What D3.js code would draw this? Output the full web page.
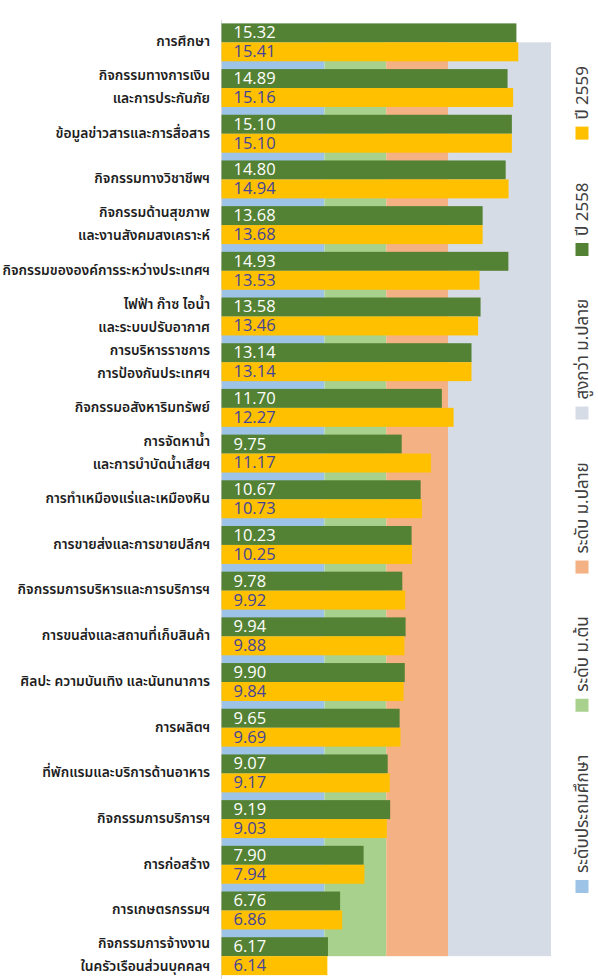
<!DOCTYPE html>
<html><head><meta charset="utf-8">
<script src="https://cdn.jsdelivr.net/npm/d3@7"></script>
<style>
body{margin:0;background:#fff;}
svg{display:block;font-family:"Noto Sans Thai","Leelawadee UI",Tahoma,"Noto Sans",sans-serif;}
</style></head><body>
<svg id="c" width="598" height="979"></svg>
<script>
const categories = [
  "การศึกษา",
  "กิจกรรมทางการเงิน\nและการประกันภัย",
  "ข้อมูลข่าวสารและการสื่อสาร",
  "กิจกรรมทางวิชาชีพฯ",
  "กิจกรรมด้านสุขภาพ\nและงานสังคมสงเคราะห์",
  "กิจกรรมขององค์การระหว่างประเทศฯ",
  "ไฟฟ้า ก๊าซ ไอน้ำ\nและระบบปรับอากาศ",
  "การบริหารราชการ\nการป้องกันประเทศฯ",
  "กิจกรรมอสังหาริมทรัพย์",
  "การจัดหาน้ำ\nและการบำบัดน้ำเสียฯ",
  "การทำเหมืองแร่และเหมืองหิน",
  "การขายส่งและการขายปลีกฯ",
  "กิจกรรมการบริหารและการบริการฯ",
  "การขนส่งและสถานที่เก็บสินค้า",
  "ศิลปะ ความบันเทิง และนันทนาการ",
  "การผลิตฯ",
  "ที่พักแรมและบริการด้านอาหาร",
  "กิจกรรมการบริการฯ",
  "การก่อสร้าง",
  "การเกษตรกรรมฯ",
  "กิจกรรมการจ้างงาน\nในครัวเรือนส่วนบุคคลฯ"
];
const y2558 = [15.32,14.89,15.10,14.80,13.68,14.93,13.58,13.14,11.70,9.75,10.67,10.23,9.78,9.94,9.90,9.65,9.07,9.19,7.90,6.76,6.17];
const y2559 = [15.41,15.16,15.10,14.94,13.68,13.53,13.46,13.14,12.27,11.17,10.73,10.25,9.92,9.88,9.84,9.69,9.17,9.03,7.94,6.86,6.14];
const levelNames = ["ระดับประถมศึกษา","ระดับ ม.ต้น","ระดับ ม.ปลาย","สูงกว่า ม.ปลาย"];
const levelEnds = [6,9,12,17];
const levelColors = ["#9dc3e6","#a9d18e","#f4b183","#d6dce5"];
const seriesNames = ["ปี 2558","ปี 2559"];
const seriesColors = ["#548235","#ffc000"];
const labelColors = ["#ffffff","#44449a"];

const svg = d3.select("#c");
const x = d3.scaleLinear().domain([1,17]).range([221.5,551]);
const y = d3.scaleBand().domain(categories).range([19.5,979]).paddingInner(0.17).paddingOuter(0.085);
const bw = y.bandwidth(), hb = bw/2;

// background education level bands
const bandTop = y(categories[0]) + hb;
const bandBot = y(categories[categories.length-1]) + hb;
const starts = [1].concat(levelEnds.slice(0,-1));
svg.append("g").selectAll("rect").data(levelEnds).join("rect")
  .attr("x",(d,i)=>x(starts[i])).attr("width",(d,i)=>x(d)-x(starts[i]))
  .attr("y",bandTop).attr("height",bandBot-bandTop)
  .attr("fill",(d,i)=>levelColors[i]);

// axis line
svg.append("line").attr("x1",x(1)).attr("x2",x(1)).attr("y1",19.5).attr("y2",979)
  .attr("stroke","#d9d9d9").attr("stroke-width",1);

// bars
const series = [y2558,y2559];
series.forEach((vals,s)=>{
  const g = svg.append("g");
  g.selectAll("rect").data(vals).join("rect")
    .attr("x",x(1)).attr("y",(d,i)=>y(categories[i])+s*hb)
    .attr("width",d=>x(d)-x(1)).attr("height",hb)
    .attr("fill",seriesColors[s]);
  g.selectAll("text").data(vals).join("text")
    .attr("x",x(1)+12).attr("y",(d,i)=>y(categories[i])+s*hb+hb/2+1)
    .attr("dominant-baseline","middle")
    .attr("font-family","'Open Sans','Noto Sans',sans-serif")
    .attr("font-size",16.5).attr("fill",labelColors[s])
    .text(d=>d.toFixed(2));
});

// category labels
const lab = svg.append("g");
categories.forEach(c=>{
  const lines = c.split("\n");
  const cy = y(c)+hb;
  lines.forEach((ln,j)=>{
    lab.append("text").attr("x",210).attr("y",cy+(j-(lines.length-1)/2)*23)
      .attr("text-anchor","end").attr("dominant-baseline","middle")
      .attr("font-size",13.8).attr("font-weight",600).attr("fill","#1e1e1e")
      .text(ln);
  });
});

// legend (rotated, reads bottom-to-top)
const legItems = levelNames.map((n,i)=>({n,c:levelColors[i]})).concat(seriesNames.map((n,i)=>({n,c:seriesColors[i]})));
const legStart = 893, legEnd = 66;
const leg = svg.append("g").attr("transform",`translate(582,${legStart}) rotate(-90)`);
const gs = legItems.map(it=>{
  const g = leg.append("g");
  g.append("rect").attr("x",0).attr("y",-6.5).attr("width",13).attr("height",13).attr("fill",it.c);
  const t = g.append("text").attr("x",20).attr("y",1).attr("dominant-baseline","middle")
    .attr("font-size",17).attr("fill","#404040").text(it.n);
  return {g, w: 20 + t.node().getComputedTextLength()};
});
const totalW = d3.sum(gs, d=>d.w);
const gap = ((legStart-legEnd) - totalW)/(gs.length-1);
let pos = 0;
gs.forEach(d=>{ d.g.attr("transform",`translate(${pos},0)`); pos += d.w + gap; });
</script></body></html>
